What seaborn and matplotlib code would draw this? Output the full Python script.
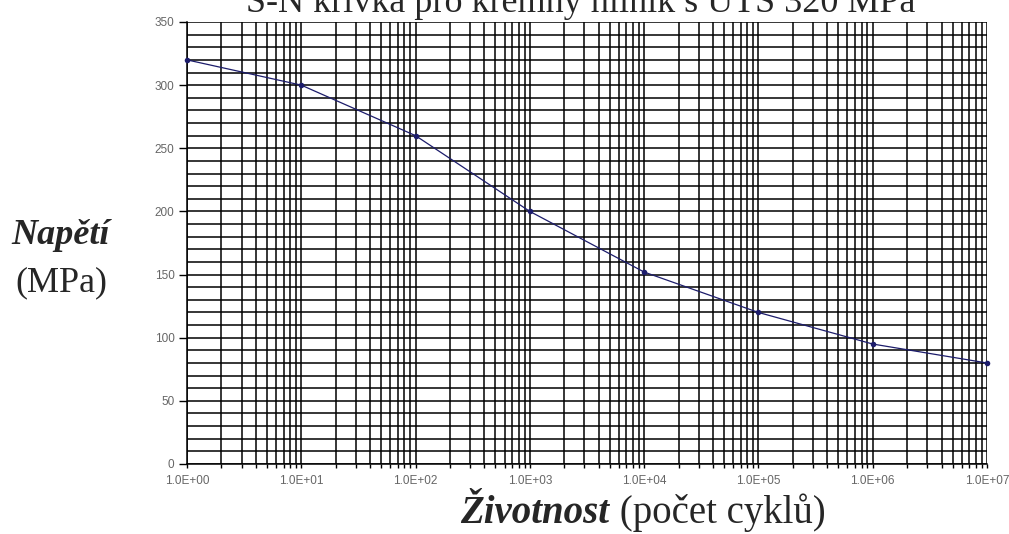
import numpy as np
import pandas as pd
import seaborn as sns
import matplotlib
matplotlib.use("Agg")
import matplotlib.pyplot as plt
from matplotlib.ticker import FixedLocator, LogLocator, FuncFormatter, MultipleLocator

cycles = [1e0, 1e1, 1e2, 1e3, 1e4, 1e5, 1e6, 1e7]
stress = [320, 300, 260, 200, 152, 120, 95, 80]
y_ticks = [0, 50, 100, 150, 200, 250, 300, 350]
x_ticks = [1e0, 1e1, 1e2, 1e3, 1e4, 1e5, 1e6, 1e7]
x_tick_labels = ["1.0E+00", "1.0E+01", "1.0E+02", "1.0E+03", "1.0E+04", "1.0E+05", "1.0E+06", "1.0E+07"]

title = "S-N křivka pro křemný hliník s UTS 320 MPa"

df = pd.DataFrame({"cycles": cycles, "stress": stress})

sns.set_style("white")
fig = plt.figure(figsize=(10.09, 5.34), dpi=100)
ax = fig.add_axes([187/1009, 1-464/534, (987-187)/1009, (464-22)/534])

ax.set_xscale("log")
ax.set_xlim(1e0, 1e7)
ax.set_ylim(0, 350)

ax.yaxis.set_major_locator(FixedLocator(y_ticks))
ax.yaxis.set_minor_locator(MultipleLocator(10))
ax.xaxis.set_major_locator(FixedLocator(x_ticks))
ax.xaxis.set_minor_locator(LogLocator(base=10, subs=np.arange(2, 10), numticks=20))
ax.set_xticklabels(x_tick_labels)
ax.xaxis.set_minor_formatter(FuncFormatter(lambda v, p: ""))

ax.grid(True, which="both", color="black", linewidth=1.1)
ax.set_axisbelow(True)

sns.lineplot(data=df, x="cycles", y="stress", ax=ax, color="#1c1c6b",
             linewidth=0.9, marker="o", markersize=4, markeredgewidth=0,
             zorder=5, clip_on=False)

for s in ["top", "right"]:
    ax.spines[s].set_visible(False)
for s in ["left", "bottom"]:
    ax.spines[s].set_color("black")
    ax.spines[s].set_linewidth(1.1)

ax.tick_params(axis="y", which="major", left=True, length=6, width=1, color="black",
               labelsize=8.5, labelcolor="#666666", pad=3)
ax.tick_params(axis="y", which="minor", left=False)
ax.tick_params(axis="x", which="major", bottom=True, length=3, width=1, color="black",
               labelsize=8.5, labelcolor="#666666", pad=5)
ax.tick_params(axis="x", which="minor", bottom=True, length=3, width=1, color="black")
for lab in ax.get_xticklabels() + ax.get_yticklabels():
    lab.set_fontfamily("Liberation Sans")

ax.set_xlabel("")
ax.set_ylabel("")

serif = "Liberation Serif"
fig.text(581/1009, 1-12/534, title, fontsize=26, family=serif, ha="center", va="baseline")

fig.text(61/1009, 1-244/534, "Napětí", fontsize=26, family=serif, weight="bold",
         style="italic", ha="center", va="baseline")
fig.text(61/1009, 1-291/534, "(MPa)", fontsize=26, family=serif, ha="center", va="baseline")

t1 = fig.text(460/1009, 1-523/534, "Životnost", fontsize=28, family=serif, weight="bold",
              style="italic", ha="left", va="baseline")
fig.canvas.draw()
bb = t1.get_window_extent()
fig.text((bb.x1 + 1) / fig.bbox.width, 1-523/534, " (počet cyklů)", fontsize=28, family=serif,
         ha="left", va="baseline")

fig.savefig("out.png", dpi=100)
